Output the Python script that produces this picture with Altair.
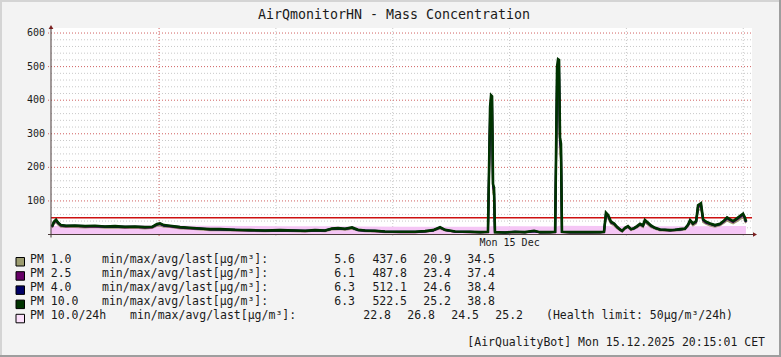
import altair as alt
import pandas as pd

# ---------------- data ----------------
title_text = "AirQmonitorHN - Mass Concentration"
footer_text = "[AirQualityBot] Mon 15.12.2025 20:15:01 CET"

# hours since left edge of the graph
hours = [0.05, 0.15, 0.26, 0.36, 0.51, 0.77, 1.23, 1.75, 2.26, 2.77,
         3.29, 3.80, 4.31, 4.83, 5.19, 5.44, 5.60, 5.80, 6.11, 6.63,
         7.14, 7.65, 8.17, 8.68, 9.45, 10.22, 10.99, 11.76, 12.53, 13.05,
         13.56, 14.07, 14.43, 14.74, 15.10, 15.46, 15.77, 16.13, 16.64, 17.15,
         17.92, 18.70, 19.21, 19.62, 19.98, 20.24, 20.75, 21.52, 22.03, 22.44,
         22.55, 22.60, 22.65, 22.70, 22.75, 22.80, 23.32, 23.83, 24.34, 24.81,
         25.11, 25.63, 25.89, 25.99, 26.04, 26.09, 26.14, 26.19, 26.24, 26.66,
         27.17, 27.68, 28.20, 28.40, 28.50, 28.61, 28.76, 28.92, 29.07, 29.22,
         29.33, 29.48, 29.63, 29.79, 29.94, 30.10, 30.25, 30.40, 30.50, 30.66,
         30.81, 31.02, 31.28, 31.53, 31.79, 32.05, 32.31, 32.56, 32.72, 32.82,
         32.97, 33.13, 33.23, 33.38, 33.49, 33.64, 33.85, 34.10, 34.36, 34.57,
         34.72, 34.87, 35.03, 35.23, 35.38, 35.54, 35.64, 35.69]

pm10 = [24, 38, 44, 36, 28, 26, 27, 25, 26, 24,
        25, 23, 24, 22, 23, 31, 33, 28, 26, 22,
        20, 18, 16, 16, 14, 13, 12, 13, 12, 11,
        13, 12, 18, 19, 17, 21, 14, 12, 11, 9,
        8, 8, 10, 13, 22, 14, 9, 8, 7, 8,
        380, 415, 412, 150, 140, 7, 6, 8, 7, 11,
        7, 7, 8, 500, 522, 520, 290, 270, 8, 7,
        7, 7, 7, 8, 65, 58, 38, 33, 23, 15,
        11, 20, 25, 16, 19, 25, 32, 27, 43, 35,
        27, 20, 15, 14, 13, 14, 16, 18, 30, 43,
        33, 40, 87, 93, 45, 38, 33, 28, 32, 42,
        51, 45, 40, 48, 55, 62, 50, 39]

pm4 = [24, 37, 43, 35, 28, 26, 26, 25, 25, 24,
       24, 23, 23, 22, 22, 30, 32, 27, 25, 22,
       19, 18, 16, 15, 14, 13, 12, 12, 12, 11,
       12, 12, 17, 18, 17, 20, 13, 12, 11, 9,
       8, 8, 10, 12, 21, 13, 9, 8, 7, 8,
       370, 405, 400, 146, 136, 7, 6, 8, 7, 10,
       7, 7, 8, 490, 512, 508, 283, 262, 8, 7,
       7, 7, 7, 8, 63, 56, 37, 32, 22, 15,
       11, 19, 24, 16, 18, 24, 31, 26, 42, 34,
       26, 19, 15, 14, 13, 14, 15, 17, 29, 42,
       32, 39, 85, 91, 44, 37, 32, 27, 31, 41,
       50, 44, 39, 47, 54, 60, 49, 38]

pm25 = [22, 35, 41, 33, 26, 24, 25, 23, 24, 22,
        23, 21, 22, 20, 21, 29, 31, 26, 24, 20,
        18, 17, 15, 15, 13, 12, 11, 12, 11, 10,
        12, 11, 17, 18, 16, 20, 13, 11, 10, 8,
        7, 7, 9, 12, 20, 13, 8, 7, 7, 7,
        352, 386, 383, 140, 130, 7, 6, 7, 7, 10,
        6, 7, 7, 465, 488, 483, 270, 251, 7, 6,
        6, 6, 7, 7, 60, 54, 35, 31, 21, 14,
        10, 19, 23, 15, 18, 23, 30, 25, 40, 33,
        25, 19, 14, 13, 12, 13, 15, 17, 28, 40,
        31, 37, 81, 86, 42, 35, 31, 26, 30, 39,
        47, 42, 37, 45, 51, 58, 46, 37]

pm1 = [20, 32, 37, 30, 23, 22, 22, 21, 22, 20,
       21, 19, 20, 18, 19, 26, 27, 23, 22, 18,
       17, 15, 13, 13, 12, 11, 10, 11, 10, 9,
       11, 10, 15, 16, 14, 17, 12, 10, 9, 7,
       7, 7, 8, 11, 18, 12, 8, 7, 6, 7,
       315, 348, 342, 125, 116, 6, 6, 7, 6, 9,
       6, 6, 7, 415, 438, 432, 241, 224, 7, 6,
       6, 6, 6, 7, 54, 48, 32, 27, 19, 12,
       9, 17, 21, 13, 16, 21, 27, 22, 36, 29,
       22, 17, 12, 12, 11, 12, 13, 15, 25, 36,
       27, 33, 72, 77, 37, 32, 27, 23, 27, 35,
       42, 37, 33, 40, 46, 51, 42, 34]

avg_hours = [0.0, 2, 4, 6, 8, 10, 12, 14, 16, 18, 20, 22.5, 22.6, 24, 26.0, 26.1,
             28.4, 29, 31, 33, 35, 35.69]
avg_pm10 = [25.3, 26.2, 26.8, 26.5, 26.0, 25.4, 24.9, 24.3, 23.8, 23.3, 23.0, 22.8,
            24.4, 24.2, 24.0, 26.0, 25.6, 24.6, 24.5, 24.8, 25.1, 25.2]

health_limit = [50]

y_major = [100, 200, 300, 400, 500, 600]
y_minor = [v for v in range(20, 601, 20) if v % 100 != 0]
x_major = [5.55]
x_minor = [11.55, 17.55, 23.55, 29.55, 35.55]
x_label_pos = [23.55]
x_label_text = ["Mon 15 Dec"]

series_names = ["PM 1.0", "PM 2.5", "PM 4.0", "PM 10.0"]
series_values = [pm1, pm25, pm4, pm10]
series_colors = ["#9c9c70", "#660066", "#000066", "#003300"]
series_widths = [2, 2, 2, 2.6]
stat_min = [5.6, 6.1, 6.3, 6.3]
stat_max = [437.6, 487.8, 512.1, 522.5]
stat_avg = [20.9, 23.4, 24.6, 25.2]
stat_last = [34.5, 37.4, 38.4, 38.8]
avg_name = "PM 10.0/24h"
avg_color = "#f5c6f5"
avg_swatch = "#fbe0fb"
avg_stats = [22.8, 26.8, 24.5, 25.2]
avg_note = "(Health limit: 50µg/m³/24h)"
unit_label = "min/max/avg/last[µg/m³]:"

# ---------------- layout ----------------
W, H = 781, 357
X0, X1 = 51, 752
Y0, YTOP = 234.5, 28
FONT = "DejaVu Sans Mono"
TXT = "#1a1a1a"

xs = alt.Scale(domain=[0, 36], range=[X0, X1], nice=False, zero=False)
ys = alt.Scale(domain=[0, 615], range=[Y0, YTOP], nice=False)

dummy = pd.DataFrame({"d": [0]})
layers = []


def box(x1, x2, y1, y2, fill, stroke=None, sw=0):
    kw = dict(fill=fill)
    if stroke:
        kw.update(stroke=stroke, strokeWidth=sw)
    return alt.Chart(dummy).mark_rect(**kw).encode(
        x=alt.value(x1), x2=alt.value(x2), y=alt.value(y1), y2=alt.value(y2))


def text(s, x, y, size, align="left", baseline="alphabetic", color=TXT):
    return alt.Chart(dummy).mark_text(
        text=s, x=x, y=y, font=FONT, fontSize=size, align=align,
        baseline=baseline, color=color)


# frame and canvas
layers.append(box(0, W, 0, 2, "#d4d4d4"))
layers.append(box(0, 2, 0, H, "#d4d4d4"))
layers.append(box(0, W, H - 2, H, "#9e9e9e"))
layers.append(box(W - 2, W, 0, H, "#9e9e9e"))
layers.append(box(X0, X1, YTOP, Y0, "#ffffff"))

# grid
layers.append(alt.Chart(pd.DataFrame({"v": y_minor})).mark_rule(
    color="#c8c8c8", strokeWidth=1, strokeDash=[1, 2]).encode(
    y=alt.Y("v:Q", scale=ys, axis=None), x=alt.value(X0), x2=alt.value(X1)))
layers.append(alt.Chart(pd.DataFrame({"t": x_minor})).mark_rule(
    color="#c8c8c8", strokeWidth=1, strokeDash=[1, 2]).encode(
    x=alt.X("t:Q", scale=xs, axis=None), y=alt.value(YTOP), y2=alt.value(Y0 + 2)))
layers.append(alt.Chart(pd.DataFrame({"v": y_major})).mark_rule(
    color="#d06060", strokeWidth=1, strokeDash=[1, 2]).encode(
    y=alt.Y("v:Q", scale=ys, axis=None), x=alt.value(X0 - 3), x2=alt.value(X1)))
layers.append(alt.Chart(pd.DataFrame({"t": x_major})).mark_rule(
    color="#d06060", strokeWidth=1, strokeDash=[1, 2]).encode(
    x=alt.X("t:Q", scale=xs, axis=None), y=alt.value(YTOP), y2=alt.value(Y0 + 3)))

# 24h average area
layers.append(alt.Chart(pd.DataFrame({"t": avg_hours, "v": avg_pm10})).mark_area(
    color=avg_color, opacity=1).encode(
    x=alt.X("t:Q", scale=xs, axis=None), y=alt.Y("v:Q", scale=ys, axis=None)))

# health limit
layers.append(alt.Chart(pd.DataFrame({"v": health_limit})).mark_rule(
    color="#cc1010", strokeWidth=1.5).encode(
    y=alt.Y("v:Q", scale=ys, axis=None), x=alt.value(X0), x2=alt.value(X1)))

# series lines
for name, vals, col, sw in zip(series_names, series_values, series_colors, series_widths):
    df = pd.DataFrame({"t": hours, "v": vals})
    layers.append(alt.Chart(df).mark_line(color=col, strokeWidth=sw).encode(
        x=alt.X("t:Q", scale=xs, axis=None), y=alt.Y("v:Q", scale=ys, axis=None)))

# axes
AX = "#4a3a3a"
layers.append(alt.Chart(dummy).mark_rule(color=AX, strokeWidth=1).encode(
    x=alt.value(X0 - 3), x2=alt.value(X1 + 1), y=alt.value(Y0)))
layers.append(alt.Chart(dummy).mark_rule(color=AX, strokeWidth=1).encode(
    x=alt.value(X0), y=alt.value(Y0 + 3), y2=alt.value(YTOP - 1)))
layers.append(alt.Chart(dummy).mark_point(
    shape="triangle-up", filled=True, color="#7a1e1e", size=22, opacity=1).encode(
    x=alt.value(X0), y=alt.value(YTOP - 1)))
layers.append(alt.Chart(dummy).mark_point(
    shape="triangle-right", filled=True, color="#7a1e1e", size=22, opacity=1).encode(
    x=alt.value(X1 + 3), y=alt.value(Y0)))

# axis labels
layers.append(alt.Chart(pd.DataFrame({"v": y_major, "s": [str(v) for v in y_major]})).mark_text(
    font=FONT, fontSize=10, align="right", baseline="middle", color=TXT).encode(
    y=alt.Y("v:Q", scale=ys, axis=None), x=alt.value(45), text="s:N"))
layers.append(alt.Chart(pd.DataFrame({"t": x_label_pos, "s": x_label_text})).mark_text(
    font=FONT, fontSize=10, align="center", baseline="alphabetic", color=TXT).encode(
    x=alt.X("t:Q", scale=xs, axis=None), y=alt.value(245.5), text="s:N"))

# title
layers.append(text(title_text, 394, 18.5, 13.3, align="center"))

# legend
LS = 11.5
row_y = [262.5 + 14.2 * i for i in range(5)]
val_right = [355, 407, 451, 495]
for i, (name, col) in enumerate(zip(series_names, series_colors)):
    by = row_y[i]
    layers.append(box(16, 24.5, by - 5, by + 3.5, col, "#000000", 1))
    layers.append(text(name, 30, by, LS))
    layers.append(text(unit_label, 102, by, LS))
    for xr, v in zip(val_right, [stat_min[i], stat_max[i], stat_avg[i], stat_last[i]]):
        layers.append(text(f"{v:.1f}", xr, by, LS, align="right"))

by = row_y[4]
layers.append(box(16, 24.5, by - 5, by + 3.5, avg_swatch, "#000000", 1))
layers.append(text(avg_name, 30, by, LS))
layers.append(text(unit_label, 130, by, LS))
for xr, v in zip([391, 435, 479, 523], avg_stats):
    layers.append(text(f"{v:.1f}", xr, by, LS, align="right"))
layers.append(text(avg_note, 546, by, LS))

# footer
layers.append(text(footer_text, 765, 345.5, LS, align="right"))

chart = alt.layer(*layers).properties(
    width=W, height=H, padding=0,
    autosize=alt.AutoSizeParams(type="none"),
    background="#f3f3f3",
).configure_view(stroke=None)

chart.save("out.html", embed_options={"renderer": "svg", "actions": False})
